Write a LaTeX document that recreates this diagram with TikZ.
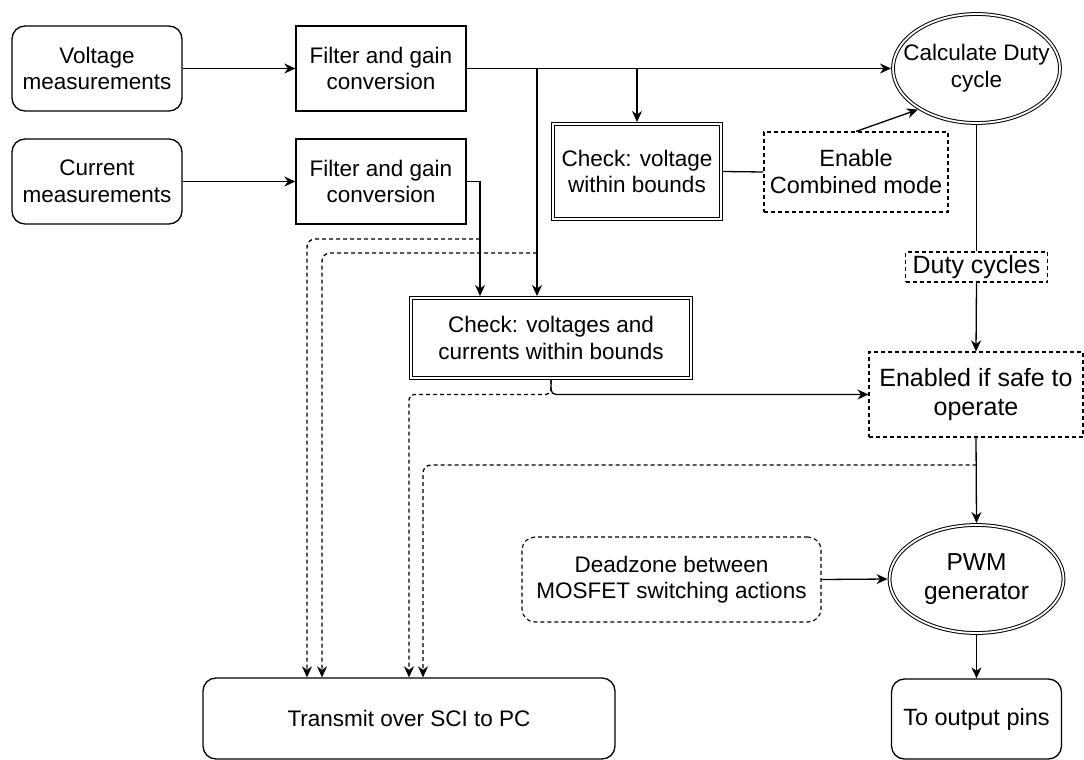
\documentclass[tikz,border=0pt]{standalone}
\usepackage{fontspec}
\setmainfont{Liberation Sans}
\usetikzlibrary{arrows.meta,shapes.geometric,calc}
\begin{document}
\begin{tikzpicture}[x=1pt,y=-1pt,line width=1.3pt,
  fnt/.style={font=\fontsize{#1}{#1*1.18}\selectfont},
  box/.style={draw, rectangle, align=center, inner sep=0pt, font=\fontsize{22.5}{26.5}\selectfont},
  rbox/.style={box, rounded corners=13pt},
  dbl/.style={double, line width=1pt, double distance=1.8pt, outer sep=2pt},
  dsh/.style={dash pattern=on 4pt off 3pt, line width=1.1pt},
  arr/.style={-{Stealth[length=11pt,width=10pt,inset=3.5pt]}},
  darr/.style={arr, dash pattern=on 4pt off 3pt, rounded corners=8pt}
]
\useasboundingbox (0,0) rectangle (1084,760);

\node[rbox, minimum width=170pt, minimum height=85pt] (vm) at (97,68.5) {Voltage\\measurements};
\node[rbox, minimum width=170pt, minimum height=85pt] (cm) at (97,181.5) {Current\\measurements};
\node[box, minimum width=170pt, minimum height=85pt] (f1) at (381,68.5) {Filter and gain\\conversion};
\node[box, minimum width=170pt, minimum height=85pt] (f2) at (381,181.5) {Filter and gain\\conversion};
\node[box, dbl, minimum width=168pt, minimum height=95pt] (c1) at (637,171.5) {Check: voltage\\within bounds};
\node[box, dsh, minimum width=184pt, minimum height=80pt, font=\fontsize{23.5}{27}\selectfont] (en) at (856,172) {Enable\\Combined mode};
\node[draw, ellipse, dbl, inner sep=0pt, minimum width=167pt, minimum height=109pt, font=\fontsize{22.5}{26.5}\selectfont] (cd) at (976.5,68.5)
  {\makebox[0pt]{\begin{tabular}{@{}c@{}}Calculate Duty\\cycle\end{tabular}}};
\node[box, dsh, minimum width=142pt, minimum height=30pt, font=\fontsize{25}{29}\selectfont] (dc) at (976.5,267) {Duty cycles};
\node[box, dbl, minimum width=280pt, minimum height=80pt] (c2) at (551,338) {Check: voltages and\\currents within bounds};
\node[box, dsh, minimum width=214pt, minimum height=85pt, font=\fontsize{25}{29}\selectfont] (es) at (976,394.5) {Enabled if safe to\\operate};
\node[box, dsh, rounded corners=13pt, minimum width=299pt, minimum height=85pt] (dz) at (671.5,579.5) {Deadzone between\\MOSFET switching actions};
\node[draw, ellipse, dbl, inner sep=0pt, align=center, minimum width=174pt, minimum height=108pt, font=\fontsize{24.5}{29}\selectfont] (pwm) at (976.5,579) {PWM\\generator};
\node[rbox, minimum width=412pt, minimum height=81pt] (tx) at (409,718.5) {Transmit over SCI to PC};
\node[rbox, minimum width=170pt, minimum height=80pt, font=\fontsize{23.5}{27}\selectfont] (op) at (976.5,719) {To output pins};

\coordinate (b2) at (537,68.5);
\coordinate (d1) at (480,239);
\coordinate (d2) at (537,253);
\coordinate (j) at (551,394.5);
\coordinate (d3) at (976.5,465);

% solid connectors
\draw[arr] (vm.east) -- (f1.west);
\draw[arr] (cm.east) -- (f2.west);
\draw[arr] (f1.east) -- (cd.west);
\draw[arr] (f1.east -| c1.north) -- (c1.north);
\draw[arr] (b2) -- (b2 |- c2.north);
\draw[arr] (f2.east) -| ($(c2.north)+(-71,0)$);
\draw (c1.east) -- (en.west);
\draw[arr] (en.north) -- (cd.215);
\draw (cd.south) -- (dc.north);
\draw[arr] (dc.south) -- (es.north);
\draw[arr, rounded corners=5pt] (c2.south) |- (es.west);
\draw[arr] (es.south) -- (pwm.north);
\draw[arr] (dz.east) -- (pwm.west);
\draw[arr] (pwm.south) -- (op.north);

% dashed connectors to Transmit
\draw[darr] (d1) -| ($(tx.north)+(-102,0)$);
\draw[darr] (d2) -| ($(tx.north)+(-87,0)$);
\draw[darr, rounded corners=5pt] (c2.south) -- (j) -| (tx.north);
\draw[darr] (d3) -| ($(tx.north)+(14,0)$);
\end{tikzpicture}
\end{document}
